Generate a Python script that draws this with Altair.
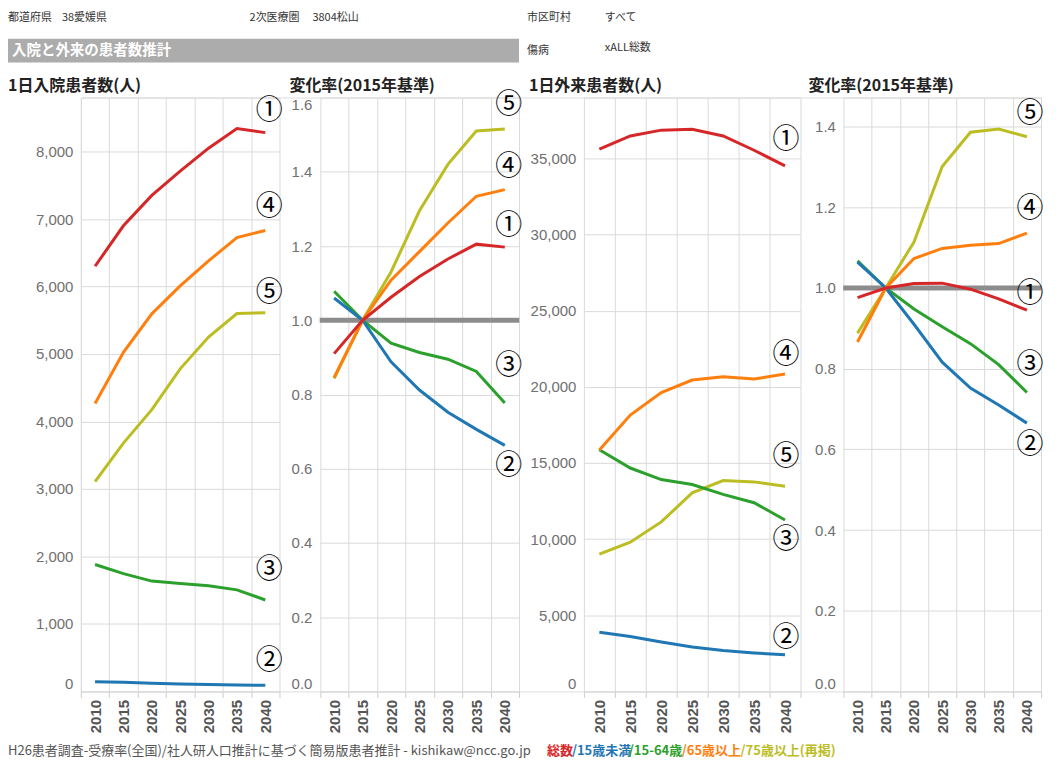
import altair as alt
import pandas as pd

# ---------------- data ----------------
years = [2010, 2015, 2020, 2025, 2030, 2035, 2040]
series_names = ["総数", "15歳未満", "15-64歳", "65歳以上", "75歳以上"]
series_colors = ["#d62728", "#1f77b4", "#2ca02c", "#ff7f0e", "#bcbd22"]
series_marks = ["①", "②", "③", "④", "⑤"]
draw_order = ["75歳以上", "15-64歳", "15歳未満", "65歳以上", "総数"]

# 1日入院患者数(人)
in_total = [6300, 6900, 7350, 7710, 8050, 8340, 8280]
in_u15 = [143, 135, 120, 110, 101, 95, 90]
in_15_64 = [1880, 1745, 1635, 1600, 1565, 1505, 1355]
in_65 = [4265, 5025, 5595, 6010, 6380, 6725, 6830]
in_75 = [3110, 3680, 4175, 4780, 5250, 5600, 5610]

# 変化率(2015年基準) 入院
inr_total = [0.91, 1.0, 1.062, 1.118, 1.165, 1.205, 1.197]
inr_u15 = [1.06, 1.0, 0.888, 0.812, 0.752, 0.706, 0.663]
inr_15_64 = [1.078, 1.0, 0.938, 0.913, 0.895, 0.862, 0.777]
inr_65 = [0.846, 1.0, 1.108, 1.185, 1.262, 1.334, 1.352]
inr_75 = [0.843, 1.0, 1.13, 1.295, 1.42, 1.51, 1.515]

# 1日外来患者数(人)
out_total = [35610, 36480, 36860, 36920, 36480, 35540, 34510]
out_u15 = [3890, 3610, 3240, 2910, 2680, 2530, 2400]
out_15_64 = [15870, 14670, 13910, 13590, 12940, 12390, 11260]
out_65 = [15850, 18150, 19630, 20450, 20670, 20510, 20840]
out_75 = [9010, 9800, 11130, 13040, 13850, 13760, 13470]

# 変化率(2015年基準) 外来
outr_total = [0.976, 1.0, 1.011, 1.012, 0.997, 0.973, 0.945]
outr_u15 = [1.064, 1.0, 0.91, 0.816, 0.752, 0.71, 0.665]
outr_15_64 = [1.067, 1.0, 0.948, 0.904, 0.862, 0.81, 0.741]
outr_65 = [0.866, 1.0, 1.073, 1.098, 1.106, 1.11, 1.136]
outr_75 = [0.888, 1.0, 1.114, 1.301, 1.386, 1.394, 1.375]

ticks_in = [0, 1000, 2000, 3000, 4000, 5000, 6000, 7000, 8000]
ticks_inr = [0.0, 0.2, 0.4, 0.6, 0.8, 1.0, 1.2, 1.4, 1.6]
ticks_out = [0, 5000, 10000, 15000, 20000, 25000, 30000, 35000]
ticks_outr = [0.0, 0.2, 0.4, 0.6, 0.8, 1.0, 1.2, 1.4]

header_texts = ["都道府県", "38愛媛県", "2次医療圏", "3804松山", "市区町村", "すべて", "傷病", "xALL総数"]
banner_text = "入院と外来の患者数推計"
panel_titles = ["1日入院患者数(人)", "変化率(2015年基準)", "1日外来患者数(人)", "変化率(2015年基準)"]
footer_text = "H26患者調査-受療率(全国)/社人研人口推計に基づく簡易版患者推計 - kishikaw@ncc.go.jp"
footer_legend = ["総数", "/15歳未満", "/15-64歳", "/65歳以上", "/75歳以上(再掲)"]

# ---------------- layout / style ----------------
W, H = 962, 595
JP = "Noto Sans CJK JP"
NUM = "Liberation Sans"
GRID = "#dadada"

panels_cfg = [
    dict(vals=[in_total, in_u15, in_15_64, in_65, in_75], top=8800, ticks=ticks_in, fmt=",",
         xr=[0, 199], off=0, dx=4, dys=[-22, -24, -30, -24, -20], ref=False),
    dict(vals=[inr_total, inr_u15, inr_15_64, inr_65, inr_75], top=1.6, ticks=ticks_inr, fmt=".1f",
         xr=[239.5, 439], off=-239.5, dx=4, dys=[-21, 21, -37, -23, -24], ref=True),
    dict(vals=[out_total, out_u15, out_15_64, out_65, out_75], top=39000, ticks=ticks_out, fmt=",",
         xr=[504, 721], off=-504, dx=1, dys=[-26, -17, 20, -19, -29], ref=False),
    dict(vals=[outr_total, outr_u15, outr_15_64, outr_65, outr_75], top=1.472, ticks=ticks_outr, fmt=".1f",
         xr=[764, 962], off=-764, dx=3, dys=[-16, 22, -28, -24, -23], ref=True),
]


def long_df(vals):
    rows = []
    for s in draw_order:
        idx = series_names.index(s)
        for y, v in zip(years, vals[idx]):
            rows.append({"year": y, "series": s, "v": v})
    return pd.DataFrame(rows)


def build_panel(cfg):
    df = long_df(cfg["vals"])
    top = cfg["top"]
    tick_vals = list(cfg["ticks"])
    hide_top = tick_vals[-1] < top - 1e-9
    if hide_top:
        tick_vals.append(top)
    label_expr = f"datum.value > {top} - 1e-6 && {1 if hide_top else 0} ? '' : format(datum.value, '{cfg['fmt']}')"
    xs = alt.Scale(type="band", domain=years, range=cfg["xr"], paddingInner=0, paddingOuter=0)
    ys = alt.Scale(domain=[0, top], nice=False, zero=True)
    xaxis = alt.Axis(orient="bottom", title=None, labelAngle=270, tickBand="extent",
                     labelFont=NUM, labelFontSize=15, labelFontWeight="bold", labelColor="#555555",
                     labelPadding=2, tickSize=6, tickColor="#cccccc", domainColor=GRID,
                     gridColor=GRID, grid=True)
    yaxis = alt.Axis(orient="left", title=None, values=tick_vals, labelExpr=label_expr,
                     offset=cfg["off"], labelFont=NUM, labelFontSize=15, labelColor="#707070",
                     labelPadding=8, ticks=False, domain=False, grid=True, gridColor=GRID,
                     labelFlush=True)
    xe = alt.X("year:O", scale=xs, axis=xaxis)
    ye = alt.Y("v:Q", scale=ys, axis=yaxis)
    layers = []
    base = alt.Chart(df)
    if cfg["ref"]:
        bw = (cfg["xr"][1] - cfg["xr"][0]) / len(years)
        layers.append(
            base.transform_filter("datum.series == '総数'")
            .mark_tick(color="#8c8c8c", thickness=5, size=bw + 0.4, orient="horizontal", opacity=1)
            .encode(x=xe, y=alt.Y(datum=1.0, type="quantitative", scale=ys, axis=yaxis))
        )
    for s in draw_order:
        col = series_colors[series_names.index(s)]
        layers.append(
            base.transform_filter(f"datum.series == '{s}'")
            .mark_line(color=col, strokeWidth=3)
            .encode(x=xe, y=ye)
        )
    for i, s in enumerate(series_names):
        layers.append(
            base.transform_filter(f"datum.series == '{s}' && datum.year == {years[-1]}")
            .mark_text(text=series_marks[i], dx=cfg["dx"], dy=cfg["dys"][i], fontSize=27,
                       font=JP, color="#000000", align="center", baseline="middle")
            .encode(x=xe, y=ye)
        )
    return alt.layer(*layers)


one = alt.Data(values=[{}])


def txt(text, x, y, size, color="#333333", weight="normal", font=JP, align="left"):
    return alt.Chart(one).mark_text(text=text, x=x, y=y, fontSize=size, color=color,
                                    fontWeight=weight, font=font, align=align, baseline="middle")


deco = []
# header rows
hx = [-73, -19, 169, 232, 447, 525, 447, 525]
hy = [-80, -80, -80, -80, -80, -80, -47, -50]
for t, x, y in zip(header_texts, hx, hy):
    deco.append(txt(t, x, y, 11))
deco.append(alt.Chart(one).mark_rect(color="#acacac").encode(
    x=alt.value(-73), x2=alt.value(439), y=alt.value(-59), y2=alt.value(-35)))
deco.append(txt(banner_text, -69, -47, 14.5, color="#ffffff", weight="bold"))
# panel titles
for t, x in zip(panel_titles, [-73, 209, 449, 729]):
    deco.append(txt(t, x, -12, 16, color="#222222", weight="bold"))
# footer
deco.append(txt(footer_text, -73, 655, 13, color="#555555"))
fl_x = [467, 492, 549, 602, 661]
for t, x, c in zip(footer_legend, fl_x, series_colors):
    deco.append(txt(t, x, 655, 13, color=c, weight="bold"))

panels = [build_panel(c) for c in panels_cfg]

chart = (
    alt.layer(*deco, *panels)
    .resolve_scale(x="independent", y="independent")
    .resolve_axis(x="independent", y="independent")
    .properties(width=W, height=H, autosize=alt.AutoSizeParams(type="none"),
                padding={"left": 73, "top": 89, "right": 12, "bottom": 68})
    .configure_view(stroke=None)
    .configure(font=JP, background="#ffffff")
)

chart.save("out.html", embed_options={"renderer": "svg", "actions": False})
